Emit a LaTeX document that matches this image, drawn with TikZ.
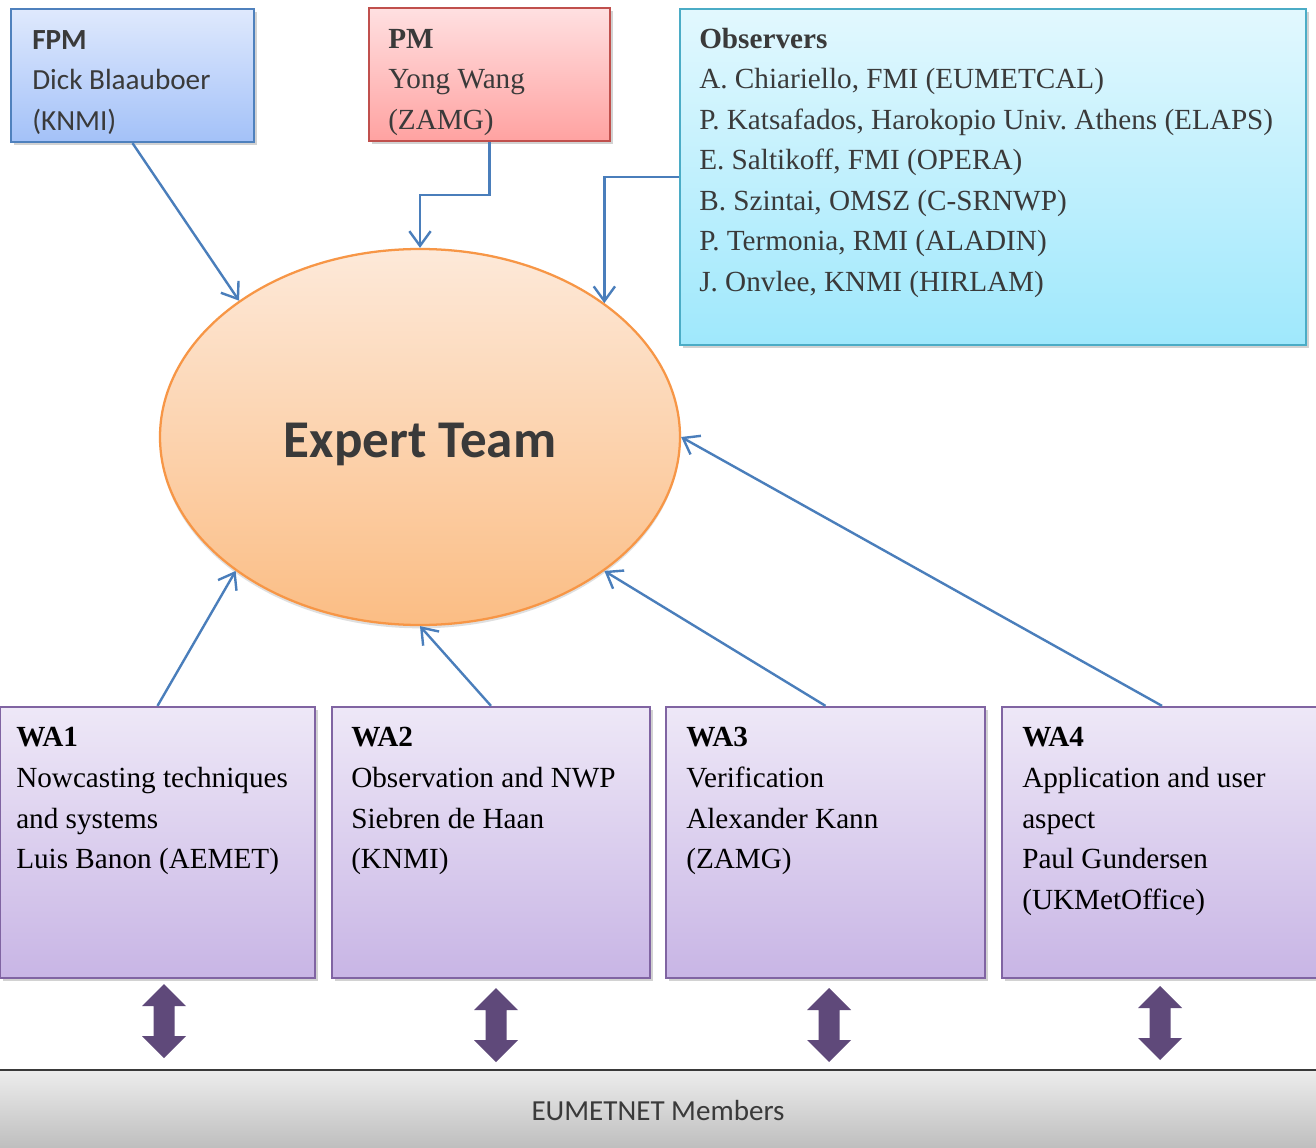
\documentclass[tikz,border=0pt]{standalone}
\usepackage{fontspec}
\setmainfont{Liberation Serif}
\newfontfamily\calibri{Carlito}
\frenchspacing
\usetikzlibrary{arrows.meta,shadows,shapes.geometric,fit}
\definecolor{connblue}{HTML}{4A7EBB}
\definecolor{txtgray}{HTML}{3A3A3A}
\definecolor{fpmtop}{HTML}{DFE9FD}
\definecolor{fpmbot}{HTML}{A3C1F8}
\definecolor{fpmline}{HTML}{4F81BD}
\definecolor{pmtop}{HTML}{FFE0E1}
\definecolor{pmbot}{HTML}{FFA2A1}
\definecolor{pmline}{HTML}{C0504D}
\definecolor{obstop}{HTML}{E2F8FE}
\definecolor{obsbot}{HTML}{9FE8FC}
\definecolor{obsline}{HTML}{4BACC6}
\definecolor{watop}{HTML}{EEE8F7}
\definecolor{wabot}{HTML}{C8B5E5}
\definecolor{waline}{HTML}{8064A2}
\definecolor{ettop}{HTML}{FDE9D9}
\definecolor{etbot}{HTML}{FBBD84}
\definecolor{etline}{HTML}{F79646}
\definecolor{dblpurple}{HTML}{5F497A}
\definecolor{bartop}{HTML}{EDEDED}
\definecolor{barbot}{HTML}{BDBDBD}
\tikzset{
  boxshadow/.style={drop shadow={shadow xshift=2pt,shadow yshift=-2pt,opacity=0.35}},
  basebox/.style={inner sep=0pt, line width=1.7pt, boxshadow},
  fpmbox/.style={basebox, draw=fpmline, top color=fpmtop, bottom color=fpmbot},
  pmbox/.style={basebox, draw=pmline, top color=pmtop, bottom color=pmbot},
  obsbox/.style={basebox, draw=obsline, top color=obstop, bottom color=obsbot},
  wabox/.style={basebox, draw=waline, top color=watop, bottom color=wabot},
  txt/.style={anchor=north west, inner sep=0pt, align=left, font=\fontsize{21.9}{30.4}\selectfont},
  conn/.style={draw=connblue, line width=1.8pt, -{Straight Barb[length=11pt,width=16pt]}},
  dblarrow/.pic={\fill[dblpurple] (0,-37) -- (22,-15) -- (10.5,-15) -- (10.5,15) -- (22,15) -- (0,37) -- (-22,15) -- (-10.5,15) -- (-10.5,-15) -- (-22,-15) -- cycle;}
}
\begin{document}
\begin{tikzpicture}[x=0.75pt,y=-0.75pt]
\clip (0,0) rectangle (1316,1148);
\fill[white] (0,0) rectangle (1316,1148);

% boxes
\node[fpmbox, fit={(11,9) (254,142)}] (fpm) {};
\node[pmbox, fit={(369,8) (610,141)}] (pm) {};
\node[obsbox, fit={(680,9) (1306,345)}] (obs) {};
\node[ellipse, inner sep=0pt, minimum width=390pt, minimum height=282pt, line width=1.7pt,
      draw=etline, top color=ettop, bottom color=etbot,
      drop shadow={shadow xshift=0pt,shadow yshift=-2.5pt,opacity=0.25}] (et) at (420,437) {};
\node[wabox, fit={(0,707) (315,978)}] (wa1) {};
\node[wabox, fit={(332,707) (650,978)}] (wa2) {};
\node[wabox, fit={(666,707) (985,978)}] (wa3) {};
\node[wabox, fit={(1002,707) (1322,978)}] (wa4) {};

% bottom bar
\node[inner sep=0pt, top color=bartop, bottom color=barbot, fit={(0,1070) (1316,1150)}] (bar) {};
\draw[line width=1.7pt, draw=txtgray] (bar.north west) -- (bar.north east);
\node[inner sep=0pt, text=txtgray, font=\calibri\fontsize{21.8}{26}\selectfont] (bartxt) at (658,1111) {EUMETNET Members};

% texts
\node[txt, text=txtgray, font=\calibri\fontsize{21.9}{30.4}\selectfont] (fpmtxt) at (32,20.6)
  {\strut\textbf{FPM}\\Dick Blaauboer\\(KNMI)};
\node[txt, text=txtgray] (pmtxt) at (388,19.6)
  {\strut\textbf{PM}\\Yong Wang\\(ZAMG)};
\node[txt, text=txtgray] (obstxt) at (699,19.6)
  {\strut\textbf{Observers}\\A. Chiariello, FMI (EUMETCAL)\\P. Katsafados, Harokopio Univ. Athens (ELAPS)\\E. Saltikoff, FMI (OPERA)\\B. Szintai, OMSZ (C-SRNWP)\\P. Termonia, RMI (ALADIN)\\J. Onvlee, KNMI (HIRLAM)};
\node[anchor=base, inner sep=0pt, text=txtgray, font=\calibri\bfseries\fontsize{39.8}{46}\selectfont] (ettxt) at (420,457) {Expert Team};
\node[txt] (wa1txt) at (16,718.3)
  {\strut\textbf{WA1}\\Nowcasting techniques\\and systems\\Luis Banon (AEMET)};
\node[txt] (wa2txt) at (351,718.3)
  {\strut\textbf{WA2}\\Observation and NWP\\Siebren de Haan\\(KNMI)};
\node[txt] (wa3txt) at (686,718.3)
  {\strut\textbf{WA3}\\Verification\\Alexander Kann\\(ZAMG)};
\node[txt] (wa4txt) at (1022,718.3)
  {\strut\textbf{WA4}\\Application and user\\aspect\\Paul Gundersen\\(UKMetOffice)};

% connectors
\draw[conn] (fpm.south) -- (et.143.7);
\draw[conn] (pm.south) -- (pm.south |- 0,195) -| (et.north);
\draw[conn] (obs.west) -| (et.36.4);
\draw[conn] (wa1.north) -- (et.216.2);
\draw[conn] (wa2.north) -- (et.south);
\draw[conn] (wa3.north) -- (et.324.4);
\draw[conn] (wa4.north) -- (et.east);

% double arrows to EUMETNET
\pic (d1) at (164,1021) {dblarrow};
\pic (d2) at (496,1025) {dblarrow};
\pic (d3) at (829,1025) {dblarrow};
\pic (d4) at (1160,1023) {dblarrow};
\end{tikzpicture}
\end{document}
